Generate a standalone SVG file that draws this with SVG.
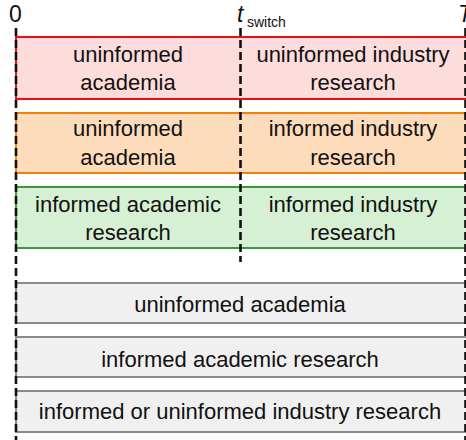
<svg xmlns="http://www.w3.org/2000/svg" width="466" height="440" viewBox="0 0 466 440">
  <style>
    text { font-family: "Liberation Sans", Arial, sans-serif; font-size: 22px; fill: #111; text-anchor: middle; }
    .red { fill: #fddcdc; stroke: #e81010; stroke-width: 2; }
    .orange { fill: #fddcbc; stroke: #f5800a; stroke-width: 2; }
    .green { fill: #d6f0d4; stroke: #3a9a3a; stroke-width: 2; }
    .gray { fill: #f0f0f0; stroke: #8a8a8a; stroke-width: 2; }
    .tick { stroke: #111; stroke-width: 2.6; stroke-dasharray: 8 4; fill: none; }
    .lbl { text-anchor: start; }
    .axis { font-size: 23px; }
    .sub { font-size: 14px; text-anchor: start; }
  </style>
  <rect width="466" height="440" fill="#fff"/>

  <g id="row-red">
    <rect class="red" x="16" y="37" width="452" height="62"/>
    <text x="128" y="62">uninformed</text>
    <text x="128" y="90">academia</text>
    <text x="353" y="62">uninformed industry</text>
    <text x="353" y="90">research</text>
  </g>
  <g id="row-orange">
    <rect class="orange" x="16" y="113" width="452" height="60"/>
    <text x="128" y="136">uninformed</text>
    <text x="128" y="165">academia</text>
    <text x="353" y="136">informed industry</text>
    <text x="353" y="165">research</text>
  </g>
  <g id="row-green">
    <rect class="green" x="16" y="187" width="452" height="61"/>
    <text x="128" y="212">informed academic</text>
    <text x="128" y="240">research</text>
    <text x="353" y="212">informed industry</text>
    <text x="353" y="240">research</text>
  </g>
  <g id="legend-uninformed-academia">
    <rect class="gray" x="16" y="283" width="452" height="40"/>
    <text x="240" y="312">uninformed academia</text>
  </g>
  <g id="legend-informed-academic">
    <rect class="gray" x="16" y="337" width="452" height="40"/>
    <text x="240" y="367">informed academic research</text>
  </g>
  <g id="legend-industry">
    <rect class="gray" x="16" y="391" width="452" height="41"/>
    <text x="240" y="419">informed or uninformed industry research</text>
  </g>

  <g id="time-axis">
    <line class="tick" x1="16" y1="28" x2="16" y2="440"/>
    <line class="tick" x1="240.5" y1="28" x2="240.5" y2="262"/>
    <line class="tick" x1="465.5" y1="28" x2="465.5" y2="440"/>
    <text class="lbl axis" x="9" y="22">0</text>
    <text class="lbl axis" x="237" y="22" font-style="italic">t</text>
    <text class="sub" x="247" y="27">switch</text>
    <text class="lbl axis" x="458" y="22" font-style="italic">T</text>
  </g>
</svg>
